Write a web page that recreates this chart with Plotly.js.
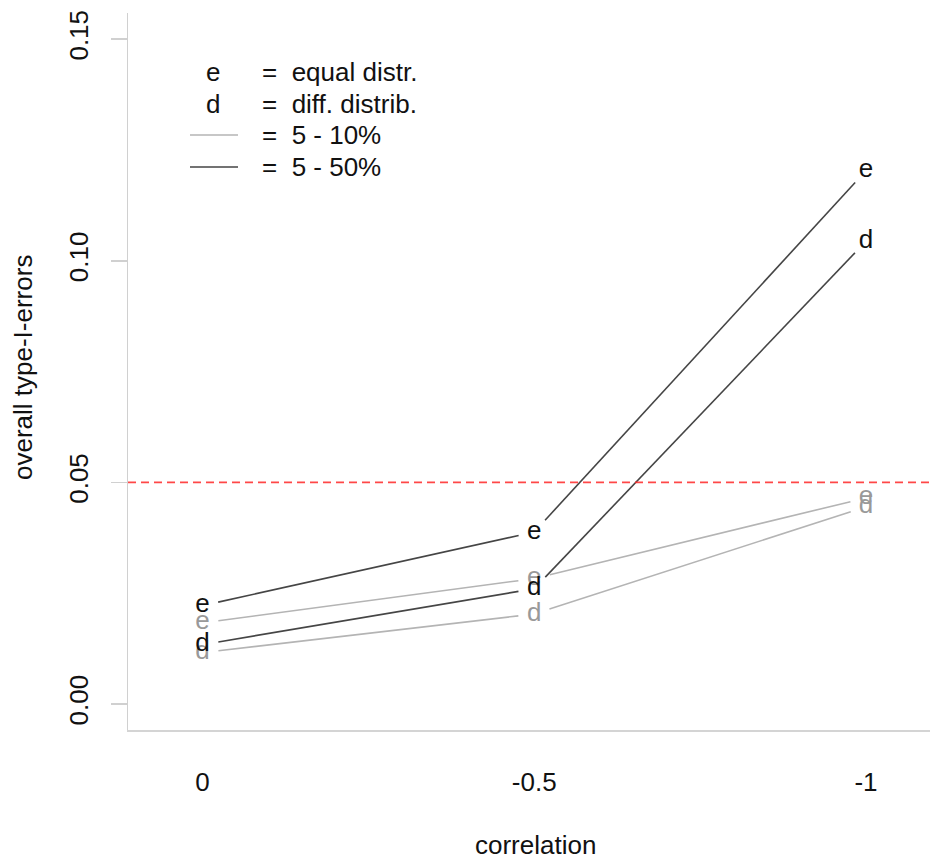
<!DOCTYPE html>
<html>
<head>
<meta charset="utf-8">
<script src="https://cdn.plot.ly/plotly-3.0.1.min.js"></script>
<style>html,body{margin:0;padding:0;background:#fff;}</style>
</head>
<body>
<div id="chart" style="width:930px;height:859px;"></div>
<script>
// ---- data ----
const xVals = [0, -0.5, -1];
const xLabels = ["0", "-0.5", "-1"];
const equal50 = [0.0222, 0.0388, 0.1203];   // e, 5 - 50%
const diff50  = [0.0134, 0.0260, 0.1044];   // d, 5 - 50%
const equal10 = [0.0183, 0.0283, 0.0465];   // e, 5 - 10%
const diff10  = [0.0116, 0.0203, 0.0445];   // d, 5 - 10%
const yTicks = [0, 0.05, 0.10, 0.15];
const yTickLabels = ["0.00", "0.05", "0.10", "0.15"];
const refLevel = 0.05;

// ---- layout geometry ----
const W = 930, H = 859;
const M = {l: 128, r: 0, t: 13, b: 129};
const xRange = [0.1123, -1.0965];
const yRange = [-0.00587, 0.1559];
const plotW = W - M.l - M.r, plotH = H - M.t - M.b;
const pxPerX = plotW / Math.abs(xRange[1] - xRange[0]);
const pxPerY = plotH / (yRange[1] - yRange[0]);
const GAP = 16; // R type="b" gap around point symbols (px)

const FONT = "Liberation Sans, Arial, sans-serif";
const FS = 26;
const DARK_LINE = "#454545", LIGHT_LINE = "#b4b4b4";
const DARK_TXT = "#111111", LIGHT_TXT = "#999999";

function gapSegments(xs, ys) {
  const sx = [], sy = [];
  for (let i = 0; i < xs.length - 1; i++) {
    const dxp = -(xs[i + 1] - xs[i]) * pxPerX;
    const dyp = (ys[i + 1] - ys[i]) * pxPerY;
    const len = Math.hypot(dxp, dyp);
    const f = GAP / len;
    const ddx = xs[i + 1] - xs[i], ddy = ys[i + 1] - ys[i];
    sx.push(xs[i] + ddx * f, xs[i + 1] - ddx * f, null);
    sy.push(ys[i] + ddy * f, ys[i + 1] - ddy * f, null);
  }
  return {x: sx, y: sy};
}

const series = [
  {y: equal10, letter: "e", line: LIGHT_LINE, txt: LIGHT_TXT},
  {y: diff10, letter: "d", line: LIGHT_LINE, txt: LIGHT_TXT},
  {y: equal50, letter: "e", line: DARK_LINE, txt: DARK_TXT},
  {y: diff50, letter: "d", line: DARK_LINE, txt: DARK_TXT}
];

const traces = [];
series.forEach(s => {
  const seg = gapSegments(xVals, s.y);
  traces.push({
    x: seg.x, y: seg.y, type: "scatter", mode: "lines",
    line: {color: s.line, width: 1.6}, hoverinfo: "skip", connectgaps: false
  });
});
series.forEach(s => {
  traces.push({
    x: xVals, y: s.y, type: "scatter", mode: "text",
    text: xVals.map(() => s.letter), textposition: "middle center",
    textfont: {family: FONT, size: FS, color: s.txt}, cliponaxis: false, hoverinfo: "skip"
  });
});

function px2paperX(p) { return (p - M.l) / plotW; }
function px2paperY(p) { return (H - M.b - p) / plotH; }

const legRows = [
  {kind: "pch", sym: "e", label: "=\u00a0 equal distr.", y: 72},
  {kind: "pch", sym: "d", label: "=\u00a0 diff. distrib.", y: 104},
  {kind: "lty", color: LIGHT_LINE, label: "=\u00a0 5 - 10%", y: 135},
  {kind: "lty", color: DARK_LINE, label: "=\u00a0 5 - 50%", y: 167}
];

const annotations = [];
const shapes = [{
  type: "line", xref: "paper", x0: 0, x1: 1, yref: "y", y0: refLevel, y1: refLevel,
  line: {color: "rgba(255,40,40,0.85)", width: 1.6, dash: "8px,5px"}
}];

legRows.forEach(r => {
  if (r.kind === "pch") {
    annotations.push({
      xref: "paper", yref: "paper", x: px2paperX(213), y: px2paperY(r.y),
      xanchor: "center", yanchor: "middle", showarrow: false, text: r.sym,
      font: {family: FONT, size: FS, color: DARK_TXT}
    });
  } else {
    shapes.push({
      type: "line", xref: "paper", yref: "paper",
      x0: px2paperX(190), x1: px2paperX(238), y0: px2paperY(r.y), y1: px2paperY(r.y),
      line: {color: r.color, width: 1.6}
    });
  }
  annotations.push({
    xref: "paper", yref: "paper", x: px2paperX(260), y: px2paperY(r.y),
    xanchor: "left", yanchor: "middle", showarrow: false, text: r.label,
    font: {family: FONT, size: FS, color: DARK_TXT}
  });
});

annotations.push({
  xref: "paper", yref: "paper", x: px2paperX(535), y: px2paperY(845),
  xanchor: "center", yanchor: "middle", showarrow: false, text: "correlation",
  font: {family: FONT, size: FS, color: DARK_TXT}
});
annotations.push({
  xref: "paper", yref: "paper", x: px2paperX(23), y: px2paperY(368),
  xanchor: "center", yanchor: "middle", showarrow: false, text: "overall type-I-errors",
  textangle: -90, font: {family: FONT, size: FS, color: DARK_TXT}
});

const layout = {
  width: W, height: H, margin: M,
  paper_bgcolor: "#fff", plot_bgcolor: "#fff", showlegend: false,
  xaxis: {
    range: xRange, tickmode: "array", tickvals: xVals, ticktext: xLabels,
    showline: true, linecolor: "#d4d4d4", linewidth: 2, ticks: "", showgrid: false,
    zeroline: false, tickfont: {family: FONT, size: FS, color: DARK_TXT},
    ticklabelstandoff: 28, fixedrange: true
  },
  yaxis: {
    range: yRange, tickmode: "array", tickvals: yTicks, ticktext: yTickLabels,
    showline: true, linecolor: "#d0d0d0", linewidth: 1.5, ticks: "outside", ticklen: 16,
    tickcolor: "#d0d0d0", tickwidth: 1.5, tickangle: -90, showgrid: false, zeroline: false,
    tickfont: {family: FONT, size: FS, color: DARK_TXT}, ticklabelstandoff: 12, fixedrange: true
  },
  shapes: shapes, annotations: annotations
};

Plotly.newPlot("chart", traces, layout, {displayModeBar: false, staticPlot: true});
</script>
</body>
</html>
